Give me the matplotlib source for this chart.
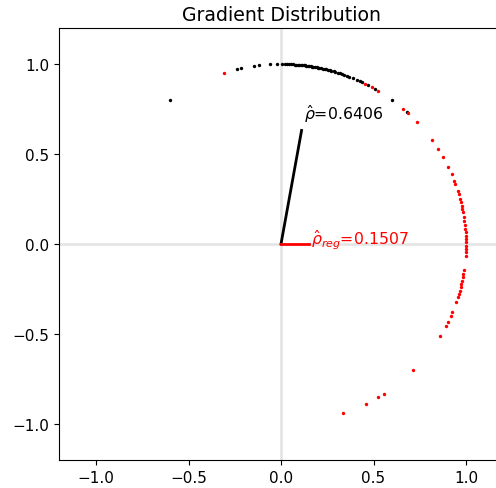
import numpy as np
import matplotlib
matplotlib.use("Agg")
import matplotlib.pyplot as plt

# angles (degrees) of unit gradient directions
black_angles = [127.0, 103.8, 102.5, 98.5, 96.7, 93.4, 91.3, 89.8, 88.7, 88.0, 87.4, 86.8,
                86.3, 85.7, 85.2, 84.8, 84.3, 83.9, 83.4, 83.0, 82.6, 82.1, 81.7, 81.2,
                80.8, 80.3, 79.9, 79.4, 78.9, 78.5, 78.0, 77.5, 77.0, 76.4, 75.9, 75.3,
                74.8, 74.2, 73.5, 72.9, 72.2, 71.5, 70.8, 70.0, 69.2, 68.3, 67.0, 65.9,
                64.7, 63.9, 62.0, 59.5, 53.1, 47.2]
red_angles = [107.8, 63.0, 60.6, 58.3, 48.6, 46.5, 42.5, 35.1, 32.0, 28.8, 25.4, 22.8,
              20.6, 19.5, 17.2, 16.1, 14.5, 13.4, 12.3, 11.2, 10.1, 8.5, 7.5, 5.9, 4.8,
              3.7, 2.6, 1.6, 0.5, -0.5, -1.6, -2.6, -3.9, -8.3, -9.6, -10.7, -11.8,
              -12.8, -13.9, -15.0, -16.1, -17.0, -18.9, -22.3, -23.5, -25.8, -27.0,
              -30.6, -44.4, -56.2, -58.3, -62.7, -70.3]

rho = 0.6406
rho_angle = 80.0
rho_reg = 0.1507
rho_reg_angle = 0.0

fig = plt.figure(figsize=(4.96, 4.89), dpi=100)
ax = fig.add_axes([59 / 496, 28 / 489, 444 / 496, 432 / 489])

ax.axhline(0, color="#e3e3e3", lw=1.8, zorder=0)
ax.axvline(0, color="#e3e3e3", lw=1.8, zorder=0)

b = np.deg2rad(black_angles)
r = np.deg2rad(red_angles)
ax.scatter(np.cos(b), np.sin(b), s=6, c="black", linewidths=0, zorder=3)
ax.scatter(np.cos(r), np.sin(r), s=6, c="red", linewidths=0, zorder=3)

a1 = np.deg2rad(rho_angle)
ax.plot([0, rho * np.cos(a1)], [0, rho * np.sin(a1)], color="black", lw=2)
a2 = np.deg2rad(rho_reg_angle)
ax.plot([0, rho_reg * np.cos(a2)], [0, rho_reg * np.sin(a2)], color="red", lw=2)

ax.text(rho * np.cos(a1) + 0.015, rho * np.sin(a1) + 0.065, r"$\hat{\rho}$=%.4f" % rho,
        color="black", fontsize=11.3, va="baseline")
ax.text(rho_reg + 0.012, 0.0, r"$\hat{\rho}_{reg}$=%.4f" % rho_reg,
        color="red", fontsize=11.3, va="baseline")

ax.set_xlim(-1.2, 1.2)
ax.set_ylim(-1.2, 1.2)
ax.set_xticks([-1.0, -0.5, 0.0, 0.5, 1.0])
ax.set_yticks([-1.0, -0.5, 0.0, 0.5, 1.0])
ax.tick_params(labelsize=11)
ax.set_title("Gradient Distribution", fontsize=13.6)

fig.savefig("out.png", dpi=100)
